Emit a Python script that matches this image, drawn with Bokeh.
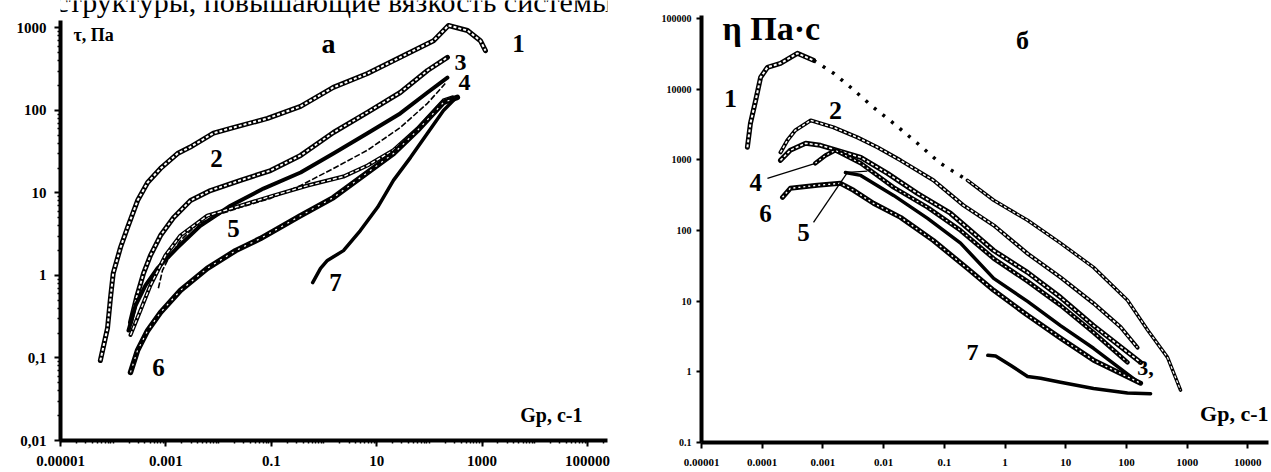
from bokeh.plotting import figure
from bokeh.layouts import row, column
from bokeh.models import Range1d, FixedTicker, Label
from bokeh.embed import file_html
from bokeh.resources import INLINE

# ---------------- panel "а": shear stress tau (Pa) vs shear rate (1/s)
a1_x = [5.7e-5, 7.8e-5, 8.9e-5, 1.0e-4, 1.38e-4, 1.87e-4, 2.9e-4, 4.5e-4, 7.9e-4, 1.66e-3, 2.9e-3, 8.0e-3, 0.019, 0.085, 0.36, 1.5, 6.7, 28, 120, 230, 530, 930, 1160]
a1_y = [0.093, 0.23, 0.54, 1.06, 2.2, 3.8, 8.1, 13.4, 19.8, 30, 36, 53, 62, 80, 112, 190, 280, 440, 700, 1070, 930, 700, 530]
a2_x = [2.13e-4, 2.77e-4, 3.76e-4, 5.1e-4, 7.9e-4, 1.39e-3, 2.93e-3, 7.0e-3, 0.026, 0.097, 0.36, 1.51, 6.7, 28, 92, 220]
a2_y = [0.27, 0.54, 1.06, 1.75, 3.05, 5.0, 8.1, 10.7, 14.2, 18.7, 28.5, 54, 95, 165, 305, 440]
a3_x = [1.95e-4, 2.65e-4, 4.1e-4, 6.9e-4, 1.66e-3, 4.5e-3, 0.0168, 0.071, 0.36, 1.51, 6.7, 28, 92, 220]
a3_y = [0.215, 0.43, 0.76, 1.22, 2.18, 4.0, 7.0, 11.3, 17.7, 30, 53, 92, 165, 250]
a4_x = [7.2e-4, 8.6e-4, 1.12e-3, 1.89e-3, 3.65e-3, 8.7e-3, 0.026, 0.097, 0.36, 1.51, 6.7, 28, 92, 200]
a4_y = [0.70, 1.15, 1.61, 2.65, 4.0, 5.3, 6.7, 8.6, 12.3, 19.8, 33, 62, 122, 212]
a5_x = [2.13e-4, 3.3e-4, 5.1e-4, 9.8e-4, 1.89e-3, 6.1e-3, 0.026, 0.110, 0.49, 2.34, 6.7, 20.8, 59, 185, 274]
a5_y = [0.19, 0.38, 0.76, 1.75, 3.05, 5.3, 7.0, 9.3, 12.3, 15.8, 21.5, 33, 60, 132, 144]
a6_x = [2.13e-4, 2.89e-4, 4.5e-4, 7.9e-4, 1.89e-3, 6.1e-3, 0.021, 0.062, 0.36, 1.51, 6.7, 20.8, 59, 185, 340]
a6_y = [0.067, 0.123, 0.215, 0.356, 0.66, 1.22, 2.0, 2.8, 5.3, 8.8, 17.7, 30, 57, 125, 144]
a7_x = [0.61, 0.86, 1.16, 2.34, 4.9, 10.4, 20.8, 44, 92, 185, 313]
a7_y = [0.82, 1.22, 1.52, 2.0, 3.5, 6.7, 14.2, 27, 53, 100, 140]

# ---------------- panel "б": viscosity eta (Pa*s) vs shear rate (1/s)
b1_x = [5.7e-5, 6.4e-5, 7.8e-5, 9.4e-5, 1.22e-4, 2.0e-4, 3.8e-4, 7.0e-4, 1.5e-3, 2.85e-3, 6.8e-3, 0.0146, 0.036, 0.086, 0.24, 0.65, 2.35, 8.2, 28.7, 104, 223, 475, 778]
b1_y = [1500, 3270, 6900, 14600, 20300, 23100, 32000, 25500, 16700, 10600, 5500, 3270, 1710, 890, 512, 267, 139, 66, 30, 10.3, 3.9, 1.6, 0.55]
b2_x = [2.0e-4, 2.6e-4, 3.5e-4, 6.3e-4, 1.5e-3, 3.7e-3, 7.9e-3, 0.019, 0.066, 0.207, 0.65, 2.35, 8.2, 28.7, 80, 152]
b2_y = [1270, 1880, 2600, 3600, 2870, 2070, 1500, 980, 512, 226, 118, 47, 21.7, 9.3, 4.3, 2.2]
b3_x = [2.0e-4, 2.9e-4, 5.2e-4, 9.1e-4, 4.2e-3, 0.0116, 0.036, 0.126, 0.65, 2.35, 8.2, 28.7, 104, 171]
b3_y = [980, 1360, 1710, 1600, 1080, 640, 335, 175, 52, 25.5, 11.3, 4.5, 1.9, 1.36]
b4_x = [7.5e-4, 1.1e-3, 1.6e-3, 4.2e-3, 0.0146, 0.053, 0.185, 0.65, 2.35, 8.2, 28.7, 104]
b4_y = [890, 1150, 1360, 890, 407, 212, 100, 40, 19, 8.7, 3.6, 1.36]
b5_x = [2.35e-3, 4.2e-3, 0.0146, 0.053, 0.185, 0.65, 2.35, 8.2, 28.7, 141]
b5_y = [660, 600, 313, 148, 66, 21, 9.9, 4.5, 2.15, 0.76]
b6_x = [2.16e-4, 2.9e-4, 8.1e-4, 1.95e-3, 3.2e-3, 6.8e-3, 0.019, 0.066, 0.24, 0.65, 2.35, 8.2, 28.7, 171]
b6_y = [294, 394, 435, 463, 369, 242, 153, 72, 29, 14.2, 6.3, 3.0, 1.46, 0.69]
b7_x = [0.52, 0.70, 1.23, 2.35, 3.85, 8.2, 28.7, 104, 250]
b7_y = [1.71, 1.67, 1.24, 0.86, 0.81, 0.71, 0.58, 0.50, 0.49]

# tick labels
a_xticks = [1e-5, 1e-3, 1e-1, 10.0, 1000.0, 100000.0]
a_xlabels = ["0.00001", "0.001", "0.1", "10", "1000", "100000"]
a_yticks = [0.01, 0.1, 1.0, 10.0, 100.0, 1000.0]
a_ylabels = ["0,01", "0,1", "1", "10", "100", "1000"]
b_xticks = [1e-5, 1e-4, 1e-3, 0.01, 0.1, 1.0, 10.0, 100.0, 1000.0, 10000.0]
b_xlabels = ["0.00001", "0.0001", "0.001", "0.01", "0.1", "1", "10", "100", "1000", "10000"]
b_yticks = [0.1, 1.0, 10.0, 100.0, 1000.0, 10000.0, 100000.0]
b_ylabels = ["0.1", "1", "10", "100", "1000", "10000", "100000"]

# annotation texts (text, x, y, size, align)
a_notes = [("τ, Па", 1.77e-5, 811, "18px", "left"),
           ("а", 1.22, 649, "28px", "center"),
           ("1", 4900, 649, "25px", "center"),
           ("2", 9.1e-3, 26.2, "25px", "center"),
           ("3", 389, 382, "24px", "center"),
           ("4", 463, 218, "24px", "center"),
           ("5", 0.0192, 3.7, "25px", "center"),
           ("6", 7.2e-4, 0.077, "25px", "center"),
           ("7", 1.65, 0.82, "25px", "center"),
           ("Gp, c-1", 80400, 0.0201, "20px", "right")]
b_notes = [("η Па·с", 2.22e-5, 72300, "34px", "left"),
           ("б", 1.94, 48900, "26px", "center"),
           ("1", 3.0e-5, 7380, "26px", "center"),
           ("2", 1.61e-3, 5000, "26px", "center"),
           ("4", 7.8e-5, 479, "25px", "center"),
           ("6", 1.13e-4, 175, "25px", "center"),
           ("5", 4.8e-4, 94, "25px", "center"),
           ("7", 0.29, 1.89, "24px", "center"),
           ("3,", 206, 1.12, "22px", "center"),
           ("Gp, c-1", 21900, 0.259, "22px", "right")]
b_leaders = [([1.22e-4, 7.5e-4], [546, 890]),
             ([7.0e-4, 2.54e-3], [130, 664]),
             ([2.54e-3, 5.4e-3], [664, 690])]
top_line = "структуры, повышающие вязкость системы."

FONT = "Liberation Serif"


def make_fig(w, h, xr, yr, borders):
    p = figure(width=w, height=h, x_axis_type="log", y_axis_type="log",
               x_range=xr, y_range=yr, output_backend="svg",
               toolbar_location=None, min_border_left=borders[0],
               min_border_right=borders[1], min_border_top=borders[2],
               min_border_bottom=borders[3])
    p.outline_line_color = None
    p.xgrid.visible = False
    p.ygrid.visible = False
    p.background_fill_color = "white"
    p.border_fill_color = "white"
    return p


def style_axis(ax, ticks, labels, minors, size, standoff, tick_out):
    ax.ticker = FixedTicker(ticks=ticks, minor_ticks=minors)
    ax.major_label_overrides = {t: l for t, l in zip(ticks, labels)}
    ax.axis_line_width = 4
    ax.axis_line_color = "black"
    ax.major_tick_line_width = 2
    ax.major_tick_in = 0
    ax.major_tick_out = tick_out
    ax.minor_tick_line_width = 1.5
    ax.minor_tick_in = 0
    ax.minor_tick_out = 3
    ax.major_label_text_font = FONT
    ax.major_label_text_font_style = "bold"
    ax.major_label_text_font_size = size
    ax.major_label_text_color = "black"
    ax.major_label_standoff = standoff


def minor_list(lo, hi):
    out = []
    for k in range(lo, hi):
        for m in range(2, 10):
            out.append(m * 10.0 ** k)
    return out


def chain(p, x, y, w, inner=None, dash="3 2"):
    p.line(x, y, line_width=w, line_color="black", line_cap="round", line_join="round")
    if inner:
        p.line(x, y, line_width=inner, line_color="white", line_dash=dash)


def notes(p, items):
    for t, x, y, s, al in items:
        p.add_layout(Label(x=x, y=y, text=t, text_font=FONT, text_font_style="bold",
                           text_font_size=s, text_align=al, text_baseline="middle",
                           text_color="black"))


# ---------------- strip with the cut-off line of page text above panel a
pt = figure(width=640, height=20, x_range=Range1d(0, 640), y_range=Range1d(0, 20),
            output_backend="svg", toolbar_location=None, x_axis_location=None,
            y_axis_location=None, min_border_left=0, min_border_right=0,
            min_border_top=0, min_border_bottom=0)
pt.outline_line_color = None
pt.xgrid.visible = False
pt.ygrid.visible = False
pt.add_layout(Label(x=-6, y=19, text=top_line, text_font=FONT, text_font_size="30px",
                    text_align="left", text_baseline="alphabetic", text_color="black"))

# ---------------- left panel
pa = make_fig(640, 452, Range1d(1e-5, 10 ** 5.38), Range1d(0.01, 10 ** 3.09), (60, 33, 0, 32))
style_axis(pa.xaxis[0], a_xticks, a_xlabels, [10.0 ** k for k in range(-5, 6)] + minor_list(-5, 6), "15px", 9, 6)
style_axis(pa.yaxis[0], a_yticks, a_ylabels, minor_list(-2, 4), "15px", 8, 6)

chain(pa, a1_x, a1_y, 5, 2, "3 2")
chain(pa, a2_x, a2_y, 5, 1.8, "3 2")
chain(pa, a3_x, a3_y, 4)
pa.line(a4_x, a4_y, line_width=1.6, line_color="black", line_dash="6 2")
chain(pa, a5_x, a5_y, 4, 1.4, "4 2")
chain(pa, a6_x, a6_y, 5.5, 1.2, "2 5")
chain(pa, a7_x, a7_y, 3.5)
notes(pa, a_notes)

# ---------------- right panel
pb = make_fig(631, 472, Range1d(1e-5, 10 ** 4.34), Range1d(0.1, 10 ** 5.04), (61, 3, 15, 30))
style_axis(pb.xaxis[0], b_xticks, b_xlabels, [], "11px", 10, 6)
style_axis(pb.yaxis[0], b_yticks, b_ylabels, [], "10px", 5, 5)

chain(pb, b1_x[:8], b1_y[:8], 5, 2, "3 2")
pb.line(b1_x[7:15], b1_y[7:15], line_width=3.5, line_color="black", line_dash="3 8")
chain(pb, b1_x[14:], b1_y[14:], 3.5, 1.2, "3 2")
chain(pb, b2_x, b2_y, 4, 1.5, "3 2")
chain(pb, b3_x, b3_y, 5, 1.6, "3 2")
chain(pb, b4_x, b4_y, 4.5, 1.2, "2 3")
chain(pb, b5_x, b5_y, 3.5)
chain(pb, b6_x, b6_y, 5, 1.4, "2 3")
chain(pb, b7_x, b7_y, 3.5)
for lx, ly in b_leaders:
    pb.line(lx, ly, line_width=1.3, line_color="black")
notes(pb, b_notes)

layout = row(column(pt, pa), pb)
open("out.html", "w").write(file_html(layout, INLINE))
